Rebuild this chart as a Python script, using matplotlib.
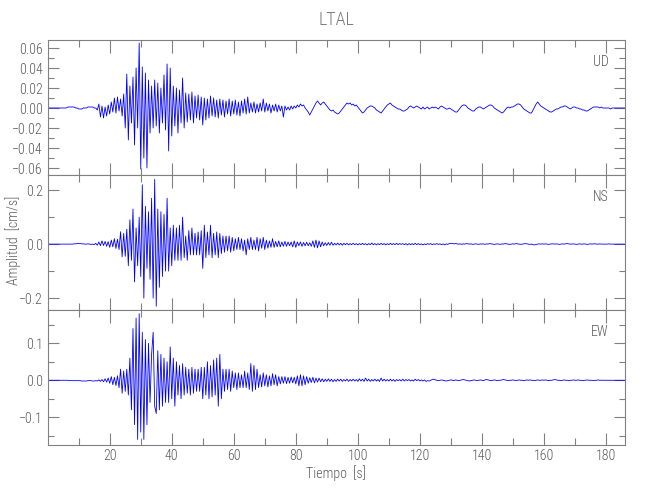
import numpy as np
import matplotlib
matplotlib.use("Agg")
import matplotlib.pyplot as plt
from matplotlib import font_manager as fm
from matplotlib.ticker import FixedLocator, FuncFormatter

# pick a thin, narrow font if one is installed
_avail = {f.name for f in fm.fontManager.ttflist}
_fam = 'DejaVu Sans'
for _c in ['Roboto Condensed', 'Liberation Sans Narrow', 'Open Sans Condensed',
           'Noto Sans Condensed', 'DejaVu Sans Condensed', 'Noto Sans']:
    if _c in _avail:
        _fam = _c
        break
plt.rcParams['font.family'] = [_fam, 'DejaVu Sans']
plt.rcParams['font.weight'] = 'light'
plt.rcParams['font.stretch'] = 'condensed'

# Sample interval (s) and trace values in units of 1e-3 cm/s
dt = 0.5
components = ["UD", "NS", "EW"]

ud = [
    0, 0, 0, 0, 0, 0, 0, 0, 0, 0, 0, 0, 0, 1, 1, 1, 1, 1, 0, 0,
    -1, -1, -1, 0, 0, 0, 1, 1, 1, 1, 0, 0, -2, 4, -9, 2, -10, 1, -8, 3,
    -6, 6, -4, 10, -5, 11, -3, 9, -8, 14, -20, 34, -32, 22, -15, 31, -37, 40, -20, 65,
    -61, 41, -50, 35, -60, 28, -25, 22, -20, 28, -18, 25, -25, 20, -15, 33, -22, 44, -43, 40,
    -28, 22, -18, 20, -25, 18, -15, 30, -20, 15, -14, 14, -12, 16, -15, 12, -10, 13, -12, 11,
    -17, 10, -12, 9, -10, 12, -8, 10, -9, 8, -10, 9, -7, 8, -9, 7, -6, 9, -8, 7,
    -6, 8, -7, 6, -8, 7, -5, 9, -6, 11, -5, 5, -4, 6, -5, 4, -4, 5, -3, 9,
    -4, 5, -3, 4, -5, 3, -3, 4, -4, 3, -3, 2, -9, 2, -2, 1, -2, 2, -1, 2,
    0, 3, 1, 4, 2, 3, 0, -2, -4, -7, -4, -1, 2, 5, 7, 5, 3, 5, 6, 4,
    2, 0, -2, -3, -2, -4, -5, -6, -5, -3, -1, 1, 3, 5, 4, 5, 3, 4, 2, 3,
    1, -1, -3, -5, -4, -2, 0, 1, 2, 2, 1, 0, -2, -3, -4, -5, -3, -1, 1, 3,
    4, 5, 3, 2, 1, 0, -1, -1, -2, -3, -3, -2, -1, 1, 2, 1, 0, 1, 2, 1,
    0, -1, 1, -1, 0, 1, -1, 0, 1, 0, 1, 0, -1, 1, 2, 1, 0, -1, -1, 0,
    -1, -2, -3, -4, -4, -2, 0, 2, 3, 3, 2, 0, -1, -2, -3, -3, -1, 0, 1, 1,
    0, -1, 0, 1, 2, 3, 3, 2, 0, -1, -2, -3, -4, -5, -4, -2, 0, 1, 0, 1,
    1, 2, 3, 4, 4, 3, 1, -1, -2, -3, -4, -5, -5, -2, 1, 4, 6, 4, 2, 1,
    0, -1, -2, -3, -4, -4, -3, -2, -1, -1, 0, 1, 1, 2, 2, 1, 0, -1, 0, 1,
    1, 0, 0, -1, -1, -2, -2, -3, -3, -2, -1, 0, 1, 1, 1, 1, 0, 1, 0, 0,
    0, 0, 0, -1, 0, 0, 0, 0, 0, 0, 0, 0, 0,
]

ns = [
    0, 0, 0, 0, 0, 0, 0, 0, 0, 0, 0, 0, 0, 0, 0, 0, 0, 1, 1, 2,
    2, 2, 1, 1, 0, 0, 1, 0, -1, 0, -2, 3, -4, 8, -6, 12, -5, 10, -8, 9,
    -12, 15, -10, 20, -16, 18, -20, 46, -47, 40, -45, 55, -80, 90, -60, 130, -140, 60, -80, 100,
    -120, 220, -200, 140, -90, 120, -130, 170, -200, 240, -230, 130, -160, 120, -120, 110, -100, 170, -100, 60,
    -80, 70, -60, 60, -60, 70, -60, 100, -50, 30, -60, 50, -40, 60, -40, 40, -40, 45, -40, 50,
    -90, 70, -50, 45, -40, 70, -50, 40, -40, 45, -50, 40, -35, 30, -30, 30, -25, 30, -30, 25,
    -25, 20, -20, 25, -20, 20, -25, 15, -40, 20, -20, 25, -20, 15, -20, 25, -25, 20, -15, 25,
    -20, 15, -15, 12, -12, 20, -12, 10, -10, 12, -10, 8, -8, 10, -8, 8, -6, 8, -10, 12,
    -12, 8, -6, 8, -8, 6, -6, 7, -6, 5, -8, 12, -12, 15, -14, 12, -10, 8, -6, 5,
    -5, 6, -4, 7, -4, 3, -3, 4, -3, 3, -4, 3, -2, 3, -3, 2, -2, 3, -2, 2,
    -3, 2, -2, 3, -2, 2, -3, 2, -2, 4, -2, 2, -3, 2, -2, 3, -2, 2, -3, 2,
    -2, 3, -2, 2, -2, 3, -2, 2, -1, 2, -2, 2, -3, 2, -2, 2, -2, 3, -2, 2,
    -2, 1, -3, 1, -2, 2, -1, 2, -2, 1, -1, 2, -1, 1, -2, 1, -3, 1, -1, 2,
    2, 3, 1, 2, 1, 0, 1, -1, 1, 0, 2, 1, 0, 1, -1, 0, 1, 0, -1, 1,
    0, 1, -1, 1, 0, 2, 1, 0, -1, 0, 1, 0, -1, 1, 0, 2, 1, 0, -1, 0,
    1, 0, 2, 1, 0, -1, 0, 1, 2, 1, 0, -1, 0, -2, -3, -1, 0, 1, 0, 1,
    0, 1, 0, -1, 0, 1, 1, 0, 1, 0, -1, 0, 1, 0, 1, 2, 1, 0, 0, 1,
    0, -1, 0, 1, 0, 0, 1, 0, -1, 0, 1, 0, 1, 1, 0, 0, 1, 0, 0, 0,
    0, 0, 1, 0, 0, 0, 0, 0, 0, 0, 0, 0, 0,
]

ew = [
    0, 0, 0, 0, 0, 0, 0, 0, 0, 0, 0, 0, 0, 0, -1, -1, -1, -1, -1, -1,
    -1, -1, -2, -2, -2, -2, -1, -1, -1, -2, -2, -1, -2, 1, -3, 2, -4, 4, -5, 6,
    -8, 10, -12, 8, -14, 12, -20, 30, -35, 25, -30, 30, -40, 60, -80, 140, -120, 168, -160, 180,
    -140, 130, -160, 110, -120, 100, -60, 70, 130, -70, -90, 80, -80, 70, -70, 60, -60, 50, -60, 90,
    -50, 60, -70, 50, -40, 40, -50, 45, -40, 35, -35, 30, -40, 35, -35, 30, -30, 30, -30, 35,
    -50, 35, -40, 50, -50, 40, -45, 55, -40, 60, -70, 70, -50, 30, -30, 30, -25, 30, -30, 25,
    -20, 20, -25, 20, -20, 15, -20, 25, -20, 20, -25, 45, -30, 40, -25, 30, -20, 15, -18, 20,
    -15, 15, -18, 12, -15, 18, -12, 15, -15, 10, -10, 10, -8, 10, -9, 8, -8, 9, -7, 8,
    -10, 12, -15, 15, -15, 12, -12, 10, -8, 7, -6, 8, -7, 6, -5, 6, -4, 4, -4, 3,
    -3, 4, -3, 3, -4, 2, -3, 3, -2, 3, -3, 2, -2, 3, -3, 2, -2, 3, -2, 2,
    -3, 4, -2, 3, -3, 6, -2, 3, -3, 2, -2, 3, -2, 2, -3, 6, -2, 3, -2, 2,
    -2, 3, -2, 2, -3, 2, -1, 2, -2, 3, -2, 2, -1, 2, -2, 1, -2, 3, -1, 2,
    -2, 1, -2, 1, -3, -1, -2, 0, 2, 3, 1, 0, -1, 0, 1, 0, -1, -2, -1, 0,
    1, 0, -1, 1, 0, -1, 0, 1, 2, 1, 0, -1, -2, -1, 0, 1, 0, -1, 0, 1,
    0, -1, 1, 2, 1, 0, -1, 0, 1, 0, -1, 0, 0, 1, 2, 1, 0, -1, 0, 0,
    1, 0, -1, 0, 1, 0, 0, -1, 0, 1, 0, 1, 0, 0, -1, 0, 1, 0, 0, 1,
    0, 1, 0, -1, 0, 0, 1, 2, 1, 0, 0, -1, 0, 1, 0, 0, -1, 0, 0, 1,
    0, 0, 1, 0, 0, -1, 0, 0, 1, 0, 0, 0, -1, 0, 0, 1, 0, 0, 0, 0,
    0, 0, 0, 0, 0, 0, 0, 0, 0, 0, 0, 0, 0,
]

traces = [ud, ns, ew]
ylims = [(-0.067, 0.068), (-0.244, 0.256), (-0.175, 0.19)]
ymajor = [[-0.06, -0.04, -0.02, 0.0, 0.02, 0.04, 0.06], [-0.2, 0.0, 0.2], [-0.1, 0.0, 0.1]]
yminor = [[-0.05, -0.03, -0.01, 0.01, 0.03, 0.05], [-0.1, 0.1], [-0.15, -0.05, 0.05, 0.15]]
yfmt = ["%.2f", "%.1f", "%.1f"]
xmajor = [20, 40, 60, 80, 100, 120, 140, 160, 180]
xminor = [10, 30, 50, 70, 90, 110, 130, 150, 170]

grey = '#808080'
txt = '#5a5a5a'

fig = plt.figure(figsize=(6.5, 5), dpi=100)
left, width, h = 0.0734, 0.8874, 0.27
bottoms = [0.65, 0.38, 0.11]

for i in range(3):
    ax = fig.add_axes([left, bottoms[i], width, h])
    v = np.asarray(traces[i], dtype=float) * 1e-3
    t = np.arange(len(v)) * dt
    ax.plot(t, v, color='#0000ff', lw=0.6)
    ax.set_xlim(0, 186)
    ax.set_ylim(*ylims[i])
    ax.xaxis.set_major_locator(FixedLocator(xmajor))
    ax.xaxis.set_minor_locator(FixedLocator(xminor))
    ax.yaxis.set_major_locator(FixedLocator(ymajor[i]))
    ax.yaxis.set_minor_locator(FixedLocator(yminor[i]))
    f = yfmt[i]
    ax.yaxis.set_major_formatter(FuncFormatter(lambda y, p, f=f: (f % y).replace('-', '\u2212')))
    ax.tick_params(which='both', direction='in', top=True, right=True,
                   color=grey, labelcolor=txt, labelsize=10, width=0.8)
    ax.tick_params(which='major', length=9)
    ax.tick_params(which='minor', length=5)
    ax.tick_params(axis='y', which='major', length=8)
    ax.tick_params(axis='y', which='minor', length=4)
    ax.tick_params(axis='x', pad=3)
    if i < 2:
        ax.tick_params(axis='x', labelbottom=False)
    for s in ax.spines.values():
        s.set_color(grey)
        s.set_linewidth(0.8)
    ax.text(0.973, 0.84, components[i], transform=ax.transAxes, ha='right',
            va='center', fontsize=10, color=txt)

fig.text(0.517, 0.96, 'LTAL', ha='center', va='center', fontsize=13, color='#777777')
fig.text(0.517, 0.054, 'Tiempo  [s]', ha='center', va='center', fontsize=10, color=txt)
fig.text(0.02, 0.52, 'Amplitud  [cm/s]', ha='center', va='center', rotation=90,
         fontsize=10, color=txt)

fig.savefig('out.png', dpi=100)
